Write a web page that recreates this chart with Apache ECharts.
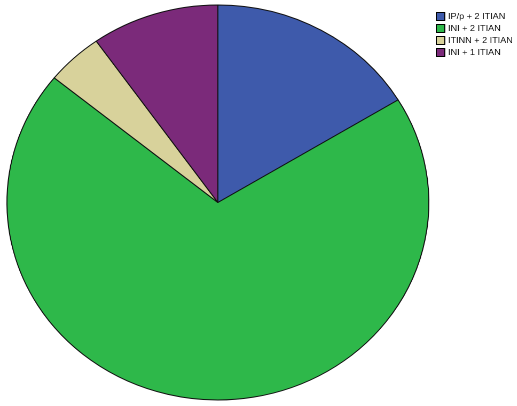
<!DOCTYPE html>
<html>
<head>
<meta charset="utf-8">
<script src="https://cdn.jsdelivr.net/npm/echarts@6/dist/echarts.min.js"></script>
<style>
html,body{margin:0;padding:0;background:#fff;overflow:hidden;}
#chart{width:484px;height:406px;transform:scaleX(1.068);transform-origin:0 0;}
</style>
</head>
<body>
<div id="chart"></div>
<script>
const categories = ["IP/p + 2 ITIAN", "INI + 2 ITIAN", "ITINN + 2 ITIAN", "INI + 1 ITIAN"];
const values = [15, 64, 4, 9];
const colors = ["#3E5AAB", "#2EB84A", "#D8D29B", "#7B2A7A"];

const chart = echarts.init(document.getElementById('chart'), null, { devicePixelRatio: 2 });
chart.setOption({
  backgroundColor: '#ffffff',
  animation: false,
  legend: {
    orient: 'vertical',
    left: 403,
    top: 7,
    itemWidth: 8,
    itemHeight: 8,
    itemGap: 3,
    icon: 'rect',
    textStyle: { fontFamily: 'Liberation Sans, Arial', fontSize: 8.5, color: '#111', padding: [0,0,0,-2] },
    itemStyle: { borderColor: '#000', borderWidth: 1 },
    data: categories
  },
  series: [{
    type: 'pie',
    center: [204, 202.5],
    radius: 197.5,
    startAngle: 90,
    clockwise: true,
    label: { show: false },
    labelLine: { show: false },
    itemStyle: { borderColor: '#111', borderWidth: 1 },
    emphasis: { disabled: true },
    data: categories.map((c, i) => ({ name: c, value: values[i], itemStyle: { color: colors[i] } }))
  }]
});
</script>
</body>
</html>
